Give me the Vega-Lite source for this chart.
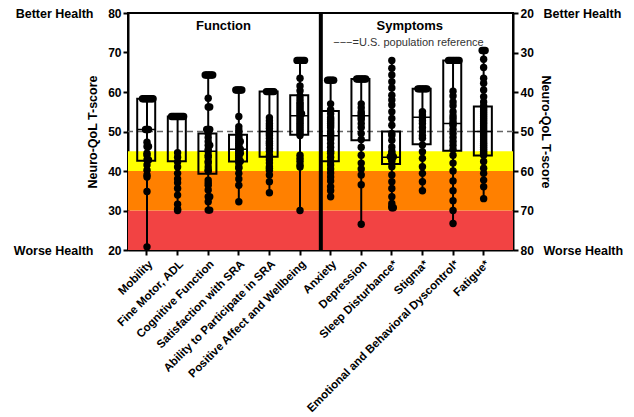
{
  "$schema": "https://vega.github.io/schema/vega-lite/v6.json",
  "width": 385,
  "height": 237,
  "autosize": {"type": "none"},
  "padding": {"left": 128, "top": 13, "right": 121, "bottom": 167},
  "background": "white",
  "datasets": {
    "bands": [
      {"zone": "severe", "lo": 20, "hi": 30},
      {"zone": "moderate", "lo": 30, "hi": 40},
      {"zone": "mild", "lo": 40, "hi": 45}
    ],
    "funcStats": [
      {"cat": "Mobility", "lo": 20.8, "q1": 42.6, "med": 50.5, "q3": 58.3, "hi": 58.3},
      {"cat": "Fine Motor, ADL", "lo": 30, "q1": 42.5, "med": 53.8, "q3": 53.8, "hi": 53.8},
      {"cat": "Cognitive Function", "lo": 30, "q1": 39.3, "med": 45, "q3": 49.5, "hi": 64.3},
      {"cat": "Satisfaction with SRA", "lo": 32.2, "q1": 42.4, "med": 45.5, "q3": 49.2, "hi": 60.5},
      {"cat": "Ability to Participate in SRA", "lo": 34.5, "q1": 43.6, "med": 50, "q3": 60.1, "hi": 60.1},
      {"cat": "Positive Affect and Wellbeing", "lo": 30, "q1": 49.2, "med": 54, "q3": 59.2, "hi": 68}
    ],
    "sympStats": [
      {"cat": "Anxiety", "lo": 37, "q1": 44.8, "med": 51.1, "q3": 57.5, "hi": 66.5},
      {"cat": "Depression", "lo": 36.7, "q1": 36.7, "med": 46, "q3": 52.2, "hi": 73.5},
      {"cat": "Sleep Disturbance*", "lo": 32, "q1": 50, "med": 56.5, "q3": 58.2, "hi": 69.3},
      {"cat": "Stigma*", "lo": 39.2, "q1": 39.2, "med": 46.4, "q3": 53.2, "hi": 65},
      {"cat": "Emotional and Behavioral Dyscontrol*", "lo": 32, "q1": 32, "med": 48, "q3": 54.9, "hi": 73.3},
      {"cat": "Fatigue*", "lo": 29.5, "q1": 43.7, "med": 50, "q3": 56.1, "hi": 67}
    ],
    "funcPoints": [
      {"cat": "Mobility", "score": 58.3}, {"cat": "Mobility", "score": 58.3}, {"cat": "Mobility", "score": 58.3}, {"cat": "Mobility", "score": 58.3},
      {"cat": "Mobility", "score": 58.3}, {"cat": "Mobility", "score": 58.3}, {"cat": "Mobility", "score": 58.3}, {"cat": "Mobility", "score": 58.3},
      {"cat": "Mobility", "score": 50.5}, {"cat": "Mobility", "score": 50.5}, {"cat": "Mobility", "score": 50.5},
      {"cat": "Mobility", "score": 47.3}, {"cat": "Mobility", "score": 46.2}, {"cat": "Mobility", "score": 46.2}, {"cat": "Mobility", "score": 44.5},
      {"cat": "Mobility", "score": 44}, {"cat": "Mobility", "score": 42.8}, {"cat": "Mobility", "score": 42.8}, {"cat": "Mobility", "score": 41.5},
      {"cat": "Mobility", "score": 40.2}, {"cat": "Mobility", "score": 39}, {"cat": "Mobility", "score": 38.5}, {"cat": "Mobility", "score": 34.8},
      {"cat": "Mobility", "score": 20.8},
      {"cat": "Fine Motor, ADL", "score": 53.8}, {"cat": "Fine Motor, ADL", "score": 53.8}, {"cat": "Fine Motor, ADL", "score": 53.8},
      {"cat": "Fine Motor, ADL", "score": 53.8}, {"cat": "Fine Motor, ADL", "score": 53.8}, {"cat": "Fine Motor, ADL", "score": 53.8},
      {"cat": "Fine Motor, ADL", "score": 53.8}, {"cat": "Fine Motor, ADL", "score": 53.8}, {"cat": "Fine Motor, ADL", "score": 53.8},
      {"cat": "Fine Motor, ADL", "score": 44.6}, {"cat": "Fine Motor, ADL", "score": 43.5}, {"cat": "Fine Motor, ADL", "score": 42.3},
      {"cat": "Fine Motor, ADL", "score": 41}, {"cat": "Fine Motor, ADL", "score": 39.4}, {"cat": "Fine Motor, ADL", "score": 38},
      {"cat": "Fine Motor, ADL", "score": 37}, {"cat": "Fine Motor, ADL", "score": 35.6}, {"cat": "Fine Motor, ADL", "score": 33.9},
      {"cat": "Fine Motor, ADL", "score": 31.6}, {"cat": "Fine Motor, ADL", "score": 30.3}, {"cat": "Fine Motor, ADL", "score": 30},
      {"cat": "Cognitive Function", "score": 64.3}, {"cat": "Cognitive Function", "score": 64.3}, {"cat": "Cognitive Function", "score": 64.3},
      {"cat": "Cognitive Function", "score": 64.3}, {"cat": "Cognitive Function", "score": 64.3}, {"cat": "Cognitive Function", "score": 64.3},
      {"cat": "Cognitive Function", "score": 58.4}, {"cat": "Cognitive Function", "score": 56.2}, {"cat": "Cognitive Function", "score": 56.2},
      {"cat": "Cognitive Function", "score": 50.5}, {"cat": "Cognitive Function", "score": 50.5}, {"cat": "Cognitive Function", "score": 50.5},
      {"cat": "Cognitive Function", "score": 49.5}, {"cat": "Cognitive Function", "score": 48.5}, {"cat": "Cognitive Function", "score": 47.5},
      {"cat": "Cognitive Function", "score": 46.5}, {"cat": "Cognitive Function", "score": 46.5}, {"cat": "Cognitive Function", "score": 45.5},
      {"cat": "Cognitive Function", "score": 45}, {"cat": "Cognitive Function", "score": 44}, {"cat": "Cognitive Function", "score": 43.5},
      {"cat": "Cognitive Function", "score": 42.5}, {"cat": "Cognitive Function", "score": 42}, {"cat": "Cognitive Function", "score": 41},
      {"cat": "Cognitive Function", "score": 40.2}, {"cat": "Cognitive Function", "score": 40}, {"cat": "Cognitive Function", "score": 37.7},
      {"cat": "Cognitive Function", "score": 37}, {"cat": "Cognitive Function", "score": 36.4}, {"cat": "Cognitive Function", "score": 35.2},
      {"cat": "Cognitive Function", "score": 33.5}, {"cat": "Cognitive Function", "score": 33.5}, {"cat": "Cognitive Function", "score": 32.2},
      {"cat": "Cognitive Function", "score": 30.1}, {"cat": "Cognitive Function", "score": 30.1},
      {"cat": "Satisfaction with SRA", "score": 60.5}, {"cat": "Satisfaction with SRA", "score": 60.5}, {"cat": "Satisfaction with SRA", "score": 60.5},
      {"cat": "Satisfaction with SRA", "score": 60.5}, {"cat": "Satisfaction with SRA", "score": 60.5}, {"cat": "Satisfaction with SRA", "score": 53.8},
      {"cat": "Satisfaction with SRA", "score": 51.2}, {"cat": "Satisfaction with SRA", "score": 50.4}, {"cat": "Satisfaction with SRA", "score": 49.8},
      {"cat": "Satisfaction with SRA", "score": 49}, {"cat": "Satisfaction with SRA", "score": 48.5}, {"cat": "Satisfaction with SRA", "score": 48},
      {"cat": "Satisfaction with SRA", "score": 47.5}, {"cat": "Satisfaction with SRA", "score": 47.5}, {"cat": "Satisfaction with SRA", "score": 47},
      {"cat": "Satisfaction with SRA", "score": 46.5}, {"cat": "Satisfaction with SRA", "score": 46}, {"cat": "Satisfaction with SRA", "score": 45.5},
      {"cat": "Satisfaction with SRA", "score": 45.5}, {"cat": "Satisfaction with SRA", "score": 45}, {"cat": "Satisfaction with SRA", "score": 44.5},
      {"cat": "Satisfaction with SRA", "score": 44.5}, {"cat": "Satisfaction with SRA", "score": 44}, {"cat": "Satisfaction with SRA", "score": 43.5},
      {"cat": "Satisfaction with SRA", "score": 43}, {"cat": "Satisfaction with SRA", "score": 42.5}, {"cat": "Satisfaction with SRA", "score": 42.5},
      {"cat": "Satisfaction with SRA", "score": 42}, {"cat": "Satisfaction with SRA", "score": 41}, {"cat": "Satisfaction with SRA", "score": 40.7},
      {"cat": "Satisfaction with SRA", "score": 39.4}, {"cat": "Satisfaction with SRA", "score": 38}, {"cat": "Satisfaction with SRA", "score": 36.4},
      {"cat": "Satisfaction with SRA", "score": 32.2},
      {"cat": "Ability to Participate in SRA", "score": 60.1}, {"cat": "Ability to Participate in SRA", "score": 60.1}, {"cat": "Ability to Participate in SRA", "score": 60.1},
      {"cat": "Ability to Participate in SRA", "score": 60.1}, {"cat": "Ability to Participate in SRA", "score": 60.1}, {"cat": "Ability to Participate in SRA", "score": 60.1},
      {"cat": "Ability to Participate in SRA", "score": 53.5}, {"cat": "Ability to Participate in SRA", "score": 52.7}, {"cat": "Ability to Participate in SRA", "score": 52},
      {"cat": "Ability to Participate in SRA", "score": 51.4}, {"cat": "Ability to Participate in SRA", "score": 50.8}, {"cat": "Ability to Participate in SRA", "score": 50},
      {"cat": "Ability to Participate in SRA", "score": 49.5}, {"cat": "Ability to Participate in SRA", "score": 49}, {"cat": "Ability to Participate in SRA", "score": 48.3},
      {"cat": "Ability to Participate in SRA", "score": 47.5}, {"cat": "Ability to Participate in SRA", "score": 47}, {"cat": "Ability to Participate in SRA", "score": 46.5},
      {"cat": "Ability to Participate in SRA", "score": 45.7}, {"cat": "Ability to Participate in SRA", "score": 45}, {"cat": "Ability to Participate in SRA", "score": 44},
      {"cat": "Ability to Participate in SRA", "score": 43.5}, {"cat": "Ability to Participate in SRA", "score": 42.8}, {"cat": "Ability to Participate in SRA", "score": 42},
      {"cat": "Ability to Participate in SRA", "score": 41.1}, {"cat": "Ability to Participate in SRA", "score": 40.7}, {"cat": "Ability to Participate in SRA", "score": 40.2},
      {"cat": "Ability to Participate in SRA", "score": 39}, {"cat": "Ability to Participate in SRA", "score": 37.3}, {"cat": "Ability to Participate in SRA", "score": 34.5},
      {"cat": "Positive Affect and Wellbeing", "score": 68}, {"cat": "Positive Affect and Wellbeing", "score": 68}, {"cat": "Positive Affect and Wellbeing", "score": 68},
      {"cat": "Positive Affect and Wellbeing", "score": 68}, {"cat": "Positive Affect and Wellbeing", "score": 68}, {"cat": "Positive Affect and Wellbeing", "score": 68},
      {"cat": "Positive Affect and Wellbeing", "score": 63.5}, {"cat": "Positive Affect and Wellbeing", "score": 61.5}, {"cat": "Positive Affect and Wellbeing", "score": 60.3},
      {"cat": "Positive Affect and Wellbeing", "score": 59}, {"cat": "Positive Affect and Wellbeing", "score": 58.2}, {"cat": "Positive Affect and Wellbeing", "score": 57.5},
      {"cat": "Positive Affect and Wellbeing", "score": 57}, {"cat": "Positive Affect and Wellbeing", "score": 56.5}, {"cat": "Positive Affect and Wellbeing", "score": 56},
      {"cat": "Positive Affect and Wellbeing", "score": 55.5}, {"cat": "Positive Affect and Wellbeing", "score": 55}, {"cat": "Positive Affect and Wellbeing", "score": 54.5},
      {"cat": "Positive Affect and Wellbeing", "score": 54.5}, {"cat": "Positive Affect and Wellbeing", "score": 54}, {"cat": "Positive Affect and Wellbeing", "score": 53.5},
      {"cat": "Positive Affect and Wellbeing", "score": 53}, {"cat": "Positive Affect and Wellbeing", "score": 52.5}, {"cat": "Positive Affect and Wellbeing", "score": 52},
      {"cat": "Positive Affect and Wellbeing", "score": 51.5}, {"cat": "Positive Affect and Wellbeing", "score": 51}, {"cat": "Positive Affect and Wellbeing", "score": 50.5},
      {"cat": "Positive Affect and Wellbeing", "score": 50}, {"cat": "Positive Affect and Wellbeing", "score": 49.5}, {"cat": "Positive Affect and Wellbeing", "score": 49},
      {"cat": "Positive Affect and Wellbeing", "score": 44}, {"cat": "Positive Affect and Wellbeing", "score": 43.2}, {"cat": "Positive Affect and Wellbeing", "score": 42.5},
      {"cat": "Positive Affect and Wellbeing", "score": 41.5}, {"cat": "Positive Affect and Wellbeing", "score": 41}, {"cat": "Positive Affect and Wellbeing", "score": 30}
    ],
    "sympPoints": [
      {"cat": "Anxiety", "score": 37}, {"cat": "Anxiety", "score": 37}, {"cat": "Anxiety", "score": 37}, {"cat": "Anxiety", "score": 37}, {"cat": "Anxiety", "score": 37},
      {"cat": "Anxiety", "score": 43}, {"cat": "Anxiety", "score": 44.5}, {"cat": "Anxiety", "score": 45.5}, {"cat": "Anxiety", "score": 46.5}, {"cat": "Anxiety", "score": 47},
      {"cat": "Anxiety", "score": 47.5}, {"cat": "Anxiety", "score": 48}, {"cat": "Anxiety", "score": 48.5}, {"cat": "Anxiety", "score": 49}, {"cat": "Anxiety", "score": 50},
      {"cat": "Anxiety", "score": 50.5}, {"cat": "Anxiety", "score": 51}, {"cat": "Anxiety", "score": 51.5}, {"cat": "Anxiety", "score": 52}, {"cat": "Anxiety", "score": 53},
      {"cat": "Anxiety", "score": 54}, {"cat": "Anxiety", "score": 55}, {"cat": "Anxiety", "score": 55.5}, {"cat": "Anxiety", "score": 56.5}, {"cat": "Anxiety", "score": 57.5},
      {"cat": "Anxiety", "score": 58.5}, {"cat": "Anxiety", "score": 59.5}, {"cat": "Anxiety", "score": 60.5}, {"cat": "Anxiety", "score": 61.5}, {"cat": "Anxiety", "score": 62.5},
      {"cat": "Anxiety", "score": 64}, {"cat": "Anxiety", "score": 65}, {"cat": "Anxiety", "score": 66.5},
      {"cat": "Depression", "score": 36.7}, {"cat": "Depression", "score": 36.7}, {"cat": "Depression", "score": 36.7}, {"cat": "Depression", "score": 36.7},
      {"cat": "Depression", "score": 36.7}, {"cat": "Depression", "score": 36.7}, {"cat": "Depression", "score": 36.7},
      {"cat": "Depression", "score": 43}, {"cat": "Depression", "score": 44}, {"cat": "Depression", "score": 45}, {"cat": "Depression", "score": 45.5},
      {"cat": "Depression", "score": 46}, {"cat": "Depression", "score": 46.5}, {"cat": "Depression", "score": 47}, {"cat": "Depression", "score": 48},
      {"cat": "Depression", "score": 49}, {"cat": "Depression", "score": 50.5}, {"cat": "Depression", "score": 52}, {"cat": "Depression", "score": 54},
      {"cat": "Depression", "score": 56}, {"cat": "Depression", "score": 58}, {"cat": "Depression", "score": 59.5}, {"cat": "Depression", "score": 61},
      {"cat": "Depression", "score": 63.5}, {"cat": "Depression", "score": 73.5},
      {"cat": "Sleep Disturbance*", "score": 32}, {"cat": "Sleep Disturbance*", "score": 34}, {"cat": "Sleep Disturbance*", "score": 35.7}, {"cat": "Sleep Disturbance*", "score": 37.4},
      {"cat": "Sleep Disturbance*", "score": 39}, {"cat": "Sleep Disturbance*", "score": 40.8}, {"cat": "Sleep Disturbance*", "score": 42}, {"cat": "Sleep Disturbance*", "score": 43.3},
      {"cat": "Sleep Disturbance*", "score": 45}, {"cat": "Sleep Disturbance*", "score": 46.7}, {"cat": "Sleep Disturbance*", "score": 48.4}, {"cat": "Sleep Disturbance*", "score": 50.5},
      {"cat": "Sleep Disturbance*", "score": 51}, {"cat": "Sleep Disturbance*", "score": 52.2}, {"cat": "Sleep Disturbance*", "score": 53.9}, {"cat": "Sleep Disturbance*", "score": 55},
      {"cat": "Sleep Disturbance*", "score": 55.5}, {"cat": "Sleep Disturbance*", "score": 56}, {"cat": "Sleep Disturbance*", "score": 56.4}, {"cat": "Sleep Disturbance*", "score": 56.4},
      {"cat": "Sleep Disturbance*", "score": 56.4}, {"cat": "Sleep Disturbance*", "score": 57}, {"cat": "Sleep Disturbance*", "score": 57.5}, {"cat": "Sleep Disturbance*", "score": 58.9},
      {"cat": "Sleep Disturbance*", "score": 61}, {"cat": "Sleep Disturbance*", "score": 62.7}, {"cat": "Sleep Disturbance*", "score": 64.4}, {"cat": "Sleep Disturbance*", "score": 66.5},
      {"cat": "Sleep Disturbance*", "score": 68.2}, {"cat": "Sleep Disturbance*", "score": 69}, {"cat": "Sleep Disturbance*", "score": 69.3}, {"cat": "Sleep Disturbance*", "score": 69.3},
      {"cat": "Stigma*", "score": 39.2}, {"cat": "Stigma*", "score": 39.2}, {"cat": "Stigma*", "score": 39.2}, {"cat": "Stigma*", "score": 39.2},
      {"cat": "Stigma*", "score": 39.2}, {"cat": "Stigma*", "score": 39.2}, {"cat": "Stigma*", "score": 39.2},
      {"cat": "Stigma*", "score": 45}, {"cat": "Stigma*", "score": 45.8}, {"cat": "Stigma*", "score": 46.5}, {"cat": "Stigma*", "score": 47.3},
      {"cat": "Stigma*", "score": 48}, {"cat": "Stigma*", "score": 49}, {"cat": "Stigma*", "score": 50}, {"cat": "Stigma*", "score": 51},
      {"cat": "Stigma*", "score": 51.7}, {"cat": "Stigma*", "score": 53.4}, {"cat": "Stigma*", "score": 55.1}, {"cat": "Stigma*", "score": 56.8},
      {"cat": "Stigma*", "score": 58.9}, {"cat": "Stigma*", "score": 60.6}, {"cat": "Stigma*", "score": 62.7}, {"cat": "Stigma*", "score": 65},
      {"cat": "Emotional and Behavioral Dyscontrol*", "score": 32}, {"cat": "Emotional and Behavioral Dyscontrol*", "score": 32},
      {"cat": "Emotional and Behavioral Dyscontrol*", "score": 32}, {"cat": "Emotional and Behavioral Dyscontrol*", "score": 32},
      {"cat": "Emotional and Behavioral Dyscontrol*", "score": 32}, {"cat": "Emotional and Behavioral Dyscontrol*", "score": 32},
      {"cat": "Emotional and Behavioral Dyscontrol*", "score": 32}, {"cat": "Emotional and Behavioral Dyscontrol*", "score": 32},
      {"cat": "Emotional and Behavioral Dyscontrol*", "score": 39.8}, {"cat": "Emotional and Behavioral Dyscontrol*", "score": 41},
      {"cat": "Emotional and Behavioral Dyscontrol*", "score": 42.5}, {"cat": "Emotional and Behavioral Dyscontrol*", "score": 43.5},
      {"cat": "Emotional and Behavioral Dyscontrol*", "score": 45}, {"cat": "Emotional and Behavioral Dyscontrol*", "score": 46},
      {"cat": "Emotional and Behavioral Dyscontrol*", "score": 46.7}, {"cat": "Emotional and Behavioral Dyscontrol*", "score": 47.5},
      {"cat": "Emotional and Behavioral Dyscontrol*", "score": 48}, {"cat": "Emotional and Behavioral Dyscontrol*", "score": 48.5},
      {"cat": "Emotional and Behavioral Dyscontrol*", "score": 49.5}, {"cat": "Emotional and Behavioral Dyscontrol*", "score": 50.5},
      {"cat": "Emotional and Behavioral Dyscontrol*", "score": 51.5}, {"cat": "Emotional and Behavioral Dyscontrol*", "score": 52.5},
      {"cat": "Emotional and Behavioral Dyscontrol*", "score": 53.5}, {"cat": "Emotional and Behavioral Dyscontrol*", "score": 54.5},
      {"cat": "Emotional and Behavioral Dyscontrol*", "score": 56}, {"cat": "Emotional and Behavioral Dyscontrol*", "score": 58},
      {"cat": "Emotional and Behavioral Dyscontrol*", "score": 60}, {"cat": "Emotional and Behavioral Dyscontrol*", "score": 62.5},
      {"cat": "Emotional and Behavioral Dyscontrol*", "score": 65}, {"cat": "Emotional and Behavioral Dyscontrol*", "score": 67.5},
      {"cat": "Emotional and Behavioral Dyscontrol*", "score": 70}, {"cat": "Emotional and Behavioral Dyscontrol*", "score": 73.3},
      {"cat": "Fatigue*", "score": 29.5}, {"cat": "Fatigue*", "score": 29.5}, {"cat": "Fatigue*", "score": 29.5}, {"cat": "Fatigue*", "score": 31.7},
      {"cat": "Fatigue*", "score": 33.8}, {"cat": "Fatigue*", "score": 36.5}, {"cat": "Fatigue*", "score": 37.8}, {"cat": "Fatigue*", "score": 39.5},
      {"cat": "Fatigue*", "score": 41.2}, {"cat": "Fatigue*", "score": 42.5}, {"cat": "Fatigue*", "score": 43.5}, {"cat": "Fatigue*", "score": 44},
      {"cat": "Fatigue*", "score": 44.5}, {"cat": "Fatigue*", "score": 45}, {"cat": "Fatigue*", "score": 45.5}, {"cat": "Fatigue*", "score": 46},
      {"cat": "Fatigue*", "score": 46.5}, {"cat": "Fatigue*", "score": 47}, {"cat": "Fatigue*", "score": 47.5}, {"cat": "Fatigue*", "score": 48},
      {"cat": "Fatigue*", "score": 48.5}, {"cat": "Fatigue*", "score": 49}, {"cat": "Fatigue*", "score": 49.5}, {"cat": "Fatigue*", "score": 50},
      {"cat": "Fatigue*", "score": 50.5}, {"cat": "Fatigue*", "score": 51}, {"cat": "Fatigue*", "score": 51.5}, {"cat": "Fatigue*", "score": 52},
      {"cat": "Fatigue*", "score": 52.5}, {"cat": "Fatigue*", "score": 53}, {"cat": "Fatigue*", "score": 53.5}, {"cat": "Fatigue*", "score": 54},
      {"cat": "Fatigue*", "score": 54.5}, {"cat": "Fatigue*", "score": 55}, {"cat": "Fatigue*", "score": 55.5}, {"cat": "Fatigue*", "score": 56},
      {"cat": "Fatigue*", "score": 57.6}, {"cat": "Fatigue*", "score": 59.3}, {"cat": "Fatigue*", "score": 60.6}, {"cat": "Fatigue*", "score": 62.3},
      {"cat": "Fatigue*", "score": 64}, {"cat": "Fatigue*", "score": 67}
    ]
  },
  "resolve": {"scale": {"y": "independent"}, "axis": {"y": "independent"}},
  "layer": [
    {
      "data": {"name": "bands"},
      "mark": {"type": "rect"},
      "encoding": {
        "y": {"field": "lo", "type": "quantitative", "scale": {"domain": [20, 80], "nice": false, "zero": false}, "axis": null},
        "y2": {"field": "hi"},
        "color": {"field": "zone", "type": "nominal", "scale": {"domain": ["severe", "moderate", "mild"], "range": ["#F24343", "#FF8000", "#FFFF00"]}, "legend": null}
      }
    },
    {
      "data": {"values": [{"ref": 50}]},
      "mark": {"type": "rule", "strokeDash": [6, 4], "color": "#666666", "strokeWidth": 1.5},
      "encoding": {
        "y": {"field": "ref", "type": "quantitative", "scale": {"domain": [20, 80], "nice": false, "zero": false}, "axis": null}
      }
    },
    {
      "data": {"name": "funcStats"},
      "mark": {"type": "rule", "color": "black", "strokeWidth": 2},
      "encoding": {
        "x": {"field": "cat", "type": "nominal", "title": null, "sort": null,
          "scale": {"type": "band", "domain": ["Mobility", "Fine Motor, ADL", "Cognitive Function", "Satisfaction with SRA", "Ability to Participate in SRA", "Positive Affect and Wellbeing", "Anxiety", "Depression", "Sleep Disturbance*", "Stigma*", "Emotional and Behavioral Dyscontrol*", "Fatigue*"], "paddingInner": 0.36, "paddingOuter": 0.47, "align": 0.32}},
        "y": {"field": "lo", "type": "quantitative", "scale": {"domain": [20, 80], "nice": false, "zero": false},
          "axis": {"orient": "left", "values": [20, 30, 40, 50, 60, 70, 80], "title": "Neuro-QoL T-score", "titlePadding": 8, "labelPadding": 2}},
        "y2": {"field": "hi"}
      }
    },
    {
      "data": {"name": "funcStats"},
      "mark": {"type": "bar", "fill": "transparent", "stroke": "black", "strokeWidth": 2},
      "encoding": {
        "x": {"field": "cat", "type": "nominal"},
        "y": {"field": "q1", "type": "quantitative", "scale": {"domain": [20, 80], "nice": false, "zero": false},
          "axis": {"orient": "left", "values": [20, 80], "labelExpr": "datum.value == 80 ? 'Better Health' : 'Worse Health'", "ticks": false, "domain": false, "offset": 35, "labelPadding": 0, "title": null, "labelFontSize": 12.5}},
        "y2": {"field": "q3"}
      }
    },
    {
      "data": {"name": "funcStats"},
      "mark": {"type": "bar", "fill": "transparent", "stroke": "black", "strokeWidth": 1.5},
      "encoding": {
        "x": {"field": "cat", "type": "nominal"},
        "y": {"field": "med", "type": "quantitative", "scale": {"domain": [20, 80], "nice": false, "zero": false}, "axis": null},
        "y2": {"field": "med"}
      }
    },
    {
      "data": {"name": "funcPoints"},
      "transform": [{"window": [{"op": "row_number", "as": "k"}], "groupby": ["cat", "score"]}],
      "mark": {"type": "circle", "size": 55, "color": "black", "opacity": 1},
      "encoding": {
        "x": {"field": "cat", "type": "nominal"},
        "xOffset": {"field": "k", "type": "nominal", "scale": {"domain": [13, 11, 9, 7, 5, 3, 1, 2, 4, 6, 8, 10, 12]}},
        "y": {"field": "score", "type": "quantitative", "scale": {"domain": [20, 80], "nice": false, "zero": false}, "axis": null}
      }
    },
    {
      "data": {"name": "sympStats"},
      "mark": {"type": "rule", "color": "black", "strokeWidth": 2},
      "encoding": {
        "x": {"field": "cat", "type": "nominal"},
        "y": {"field": "lo", "type": "quantitative", "scale": {"domain": [20, 80], "reverse": true, "nice": false, "zero": false},
          "axis": {"orient": "right", "values": [20, 30, 40, 50, 60, 70, 80], "title": "Neuro-QoL T-score", "titlePadding": 5, "labelPadding": 2}},
        "y2": {"field": "hi"}
      }
    },
    {
      "data": {"name": "sympStats"},
      "mark": {"type": "bar", "fill": "transparent", "stroke": "black", "strokeWidth": 2},
      "encoding": {
        "x": {"field": "cat", "type": "nominal"},
        "y": {"field": "q1", "type": "quantitative", "scale": {"domain": [20, 80], "reverse": true, "nice": false, "zero": false},
          "axis": {"orient": "right", "values": [20, 80], "labelExpr": "datum.value == 20 ? 'Better Health' : 'Worse Health'", "ticks": false, "domain": false, "offset": 30, "labelPadding": 0, "title": null, "labelFontSize": 12.5}},
        "y2": {"field": "q3"}
      }
    },
    {
      "data": {"name": "sympStats"},
      "mark": {"type": "bar", "fill": "transparent", "stroke": "black", "strokeWidth": 1.5},
      "encoding": {
        "x": {"field": "cat", "type": "nominal"},
        "y": {"field": "med", "type": "quantitative", "scale": {"domain": [20, 80], "reverse": true, "nice": false, "zero": false}, "axis": null},
        "y2": {"field": "med"}
      }
    },
    {
      "data": {"name": "sympPoints"},
      "transform": [{"window": [{"op": "row_number", "as": "k"}], "groupby": ["cat", "score"]}],
      "mark": {"type": "circle", "size": 55, "color": "black", "opacity": 1},
      "encoding": {
        "x": {"field": "cat", "type": "nominal"},
        "xOffset": {"field": "k", "type": "nominal", "scale": {"domain": [13, 11, 9, 7, 5, 3, 1, 2, 4, 6, 8, 10, 12]}},
        "y": {"field": "score", "type": "quantitative", "scale": {"domain": [20, 80], "reverse": true, "nice": false, "zero": false}, "axis": null}
      }
    },
    {
      "data": {"values": [{"divider": "Anxiety"}]},
      "mark": {"type": "rule", "color": "black", "strokeWidth": 4},
      "encoding": {
        "x": {"field": "divider", "type": "nominal", "bandPosition": 0}
      }
    },
    {
      "data": {"values": [{"title": "Function", "cat": "Cognitive Function"}]},
      "mark": {"type": "text", "fontSize": 13, "fontWeight": "bold", "color": "black"},
      "encoding": {
        "x": {"field": "cat", "type": "nominal", "bandPosition": 1.28},
        "y": {"datum": 76.8, "type": "quantitative", "scale": {"domain": [20, 80], "nice": false, "zero": false}, "axis": null},
        "text": {"field": "title"}
      }
    },
    {
      "data": {"values": [{"title": "Symptoms", "cat": "Sleep Disturbance*"}]},
      "mark": {"type": "text", "fontSize": 13, "fontWeight": "bold", "color": "black"},
      "encoding": {
        "x": {"field": "cat", "type": "nominal", "bandPosition": 1.42},
        "y": {"datum": 76.8, "type": "quantitative", "scale": {"domain": [20, 80], "nice": false, "zero": false}, "axis": null},
        "text": {"field": "title"}
      }
    },
    {
      "data": {"values": [{"note": "−−−=U.S. population reference", "cat": "Sleep Disturbance*"}]},
      "mark": {"type": "text", "fontSize": 11, "color": "#333333"},
      "encoding": {
        "x": {"field": "cat", "type": "nominal", "bandPosition": 1.35},
        "y": {"datum": 72.4, "type": "quantitative", "scale": {"domain": [20, 80], "nice": false, "zero": false}, "axis": null},
        "text": {"field": "note"}
      }
    }
  ],
  "config": {
    "font": "Liberation Sans",
    "view": {"stroke": "black", "strokeWidth": 2},
    "axis": {
      "domainColor": "black", "domainWidth": 2, "tickColor": "black", "tickWidth": 2, "tickSize": 5,
      "labelColor": "black", "labelFontWeight": "bold", "labelFontSize": 12, "labelFont": "Liberation Sans",
      "titleColor": "black", "titleFontWeight": "bold", "titleFontSize": 12.5, "titleFont": "Liberation Sans", "grid": false
    },
    "axisX": {"labelAngle": -45, "labelFontSize": 11.5, "title": null, "labelPadding": 3, "labelLimit": 0}
  }
}
